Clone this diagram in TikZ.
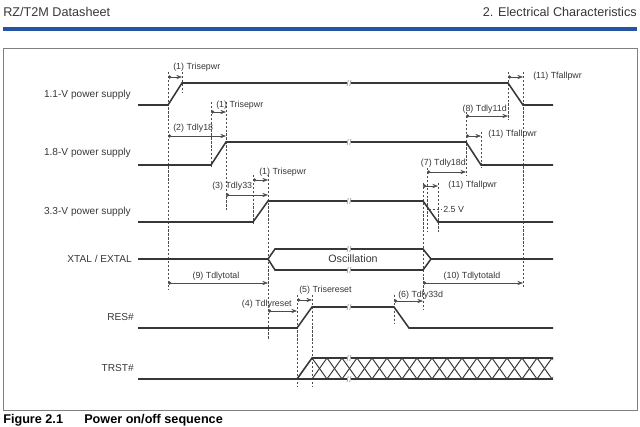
\documentclass[tikz,border=0pt]{standalone}
\usepackage{fontspec}
\setmainfont{Liberation Sans}
\usetikzlibrary{arrows.meta}
\definecolor{rzblue}{RGB}{38,84,164}
\definecolor{inkgray}{RGB}{55,55,55}
\tikzset{
  sig/.style={line width=1.1pt, inkgray},
  hatch/.style={line width=0.7pt, inkgray},
  guide/.style={line width=0.5pt, gray!60!black, dash pattern=on 1.6pt off 1.2pt},
  dim/.style={line width=0.4pt, gray!60!black, {Circle[length=2.4pt]}-{Stealth[length=4pt,width=3pt]}},
  lbl/.style={font=\fontsize{6.3}{7}\selectfont, text=inkgray, inner sep=0pt},
  sname/.style={font=\fontsize{7.2}{8}\selectfont, text=inkgray, inner sep=0pt, anchor=east},
}
\begin{document}
\begin{tikzpicture}[x=0.025cm,y=-0.025cm]
\useasboundingbox (0,0) rectangle (640,427);

% Kopf und Rahmen
\node[anchor=west, inner sep=0pt, font=\fontsize{9}{10}\selectfont, text=inkgray] (title) at (3,12) {RZ/T2M Datasheet};
\node[anchor=east, inner sep=0pt, font=\fontsize{9}{10}\selectfont, text=inkgray] (chapter) at (637,12) {2. Electrical Characteristics};
\draw[rzblue, line width=2.8pt] (3,29) -- (637,29);
\draw[gray, line width=0.6pt] (3,48) rectangle (637,410);
\node[anchor=west, inner sep=0pt, font=\bfseries\fontsize{9}{10}\selectfont] (fignum) at (3,420) {Figure 2.1};
\node[anchor=west, inner sep=0pt, font=\bfseries\fontsize{9}{10}\selectfont] (figtitle) at (84,420) {Power on/off sequence};

\begin{scope}[shift={(0,0)}]
        % Signalnamen
        \node[sname] (v11) at (131,95) {1.1-V power supply};
        \node[sname] (v18) at (131,153) {1.8-V power supply};
        \node[sname] (v33) at (131,212) {3.3-V power supply};
        \node[sname] (xtal) at (132,259) {XTAL / EXTAL};
        \node[sname] (res) at (134,317) {RES\#};
        \node[sname] (trst) at (134,368) {TRST\#};

        % Hilfslinien
        \draw[guide] (168,72) -- (168,289);
        \draw[guide] (182,72) -- (182,92);
        \draw[guide] (211,102) -- (211,168);
        \draw[guide] (226,102) -- (226,210);
        \draw[guide] (253,175) -- (253,225);
        \draw[guide] (268,175) -- (268,340);
        \draw[guide] (297,295) -- (297,386);
        \draw[guide] (312,295) -- (312,386);
        \draw[guide] (394,295) -- (394,323);
        \draw[guide] (423,183) -- (423,310);
        \draw[guide] (427,168) -- (427,232);
        \draw[guide] (438,183) -- (438,232);
        \draw[guide] (466,112) -- (466,176);
        \draw[guide] (481,132) -- (481,168);
        \draw[guide] (508,72) -- (508,120);
        \draw[guide] (523,72) -- (523,288);
        \draw[guide] (429,209) -- (442,209);

        % Zeiten
        \draw[dim] (168,77) -- (182,77);
        \node[lbl, anchor=west] (t1a) at (173,67) {(1) Trisepwr};
        \draw[dim] (211,112) -- (226,112);
        \node[lbl, anchor=west] (t1b) at (216,105) {(1) Trisepwr};
        \draw[dim] (168,136) -- (226,136);
        \node[lbl, anchor=west] (t2) at (173,128) {(2) Tdly18};
        \draw[dim] (253,180) -- (268,180);
        \node[lbl, anchor=west] (t1c) at (259,172) {(1) Trisepwr};
        \draw[dim] (226,195) -- (268,195);
        \node[lbl, anchor=west] (t3) at (212,186) {(3) Tdly33};
        \draw[dim] (168,283) -- (268,283);
        \node[lbl] (t9) at (216,276) {(9) Tdlytotal};
        \draw[dim] (268,311) -- (297,311);
        \node[lbl, anchor=east] (t4) at (292,304) {(4) Tdlyreset};
        \draw[dim] (297,300) -- (312,300);
        \node[lbl, anchor=west] (t5) at (299,290) {(5) Trisereset};
        \draw[dim] (394,301) -- (423,301);
        \node[lbl, anchor=west] (t6) at (398,295) {(6) Tdly33d};
        \draw[dim] (427,172) -- (466,172);
        \node[lbl, anchor=east] (t7) at (466,163) {(7) Tdly18d};
        \draw[dim] (466,116) -- (508,116);
        \node[lbl, anchor=east] (t8) at (507,109) {(8) Tdly11d};
        \draw[dim] (423,283) -- (523,283);
        \node[lbl] (t10) at (472,276) {(10) Tdlytotald};
        \draw[dim] (508,77) -- (523,77);
        \node[lbl, anchor=west] (t11a) at (533,76) {(11) Tfallpwr};
        \draw[dim] (466,136) -- (481,136);
        \node[lbl, anchor=west] (t11b) at (488,134) {(11) Tfallpwr};
        \draw[dim] (423,186) -- (438,186);
        \node[lbl, anchor=west] (t11c) at (448,185) {(11) Tfallpwr};
        \node[lbl, anchor=west] (vth) at (443,209) {2.5 V};

        % Signale
        \draw[sig] (138,105) -- (168,105) -- (182,83) -- (508,83) -- (523,105) -- (553,105);
        \draw[sig] (138,165) -- (211,165) -- (226,142) -- (466,142) -- (481,165) -- (553,165);
        \draw[sig] (138,222) -- (253,222) -- (268,201) -- (423,201) -- (438,222) -- (553,222);
        \draw[sig] (138,259) -- (268,259) -- (275,249) -- (423,249) -- (431,259) -- (553,259);
        \draw[sig] (268,259) -- (275,270) -- (423,270) -- (431,259);
        \node[font=\fontsize{7.6}{9}\selectfont, text=inkgray, inner sep=0pt] (osc) at (353,259) {Oscillation};
        \draw[sig] (138,328) -- (297,328) -- (312,307) -- (394,307) -- (409,328) -- (553,328);
        \draw[sig] (138,379) -- (553,379);
        \draw[sig] (297,379) -- (312,358) -- (553,358);
        \begin{scope}
                \clip (297,379) -- (312,358) -- (553,358) -- (553,379) -- cycle;
                \foreach \k in {0,...,17} {
                        \draw[hatch] (297+15*\k,379) -- (312+15*\k,358);
                        \draw[hatch] (312+15*\k,358) -- (327+15*\k,379);
                }
        \end{scope}

        % Unterbrechungen
        \foreach \y in {83,142,201,249,270,307,358,379} {
                \fill[white] (347,\y-3) rectangle (351,\y+3);
                \draw[gray, line width=0.4pt] (347,\y+3) -- (348.3,\y-3) (349.7,\y+3) -- (351,\y-3);
        }
\end{scope}

\end{tikzpicture}
\end{document}
